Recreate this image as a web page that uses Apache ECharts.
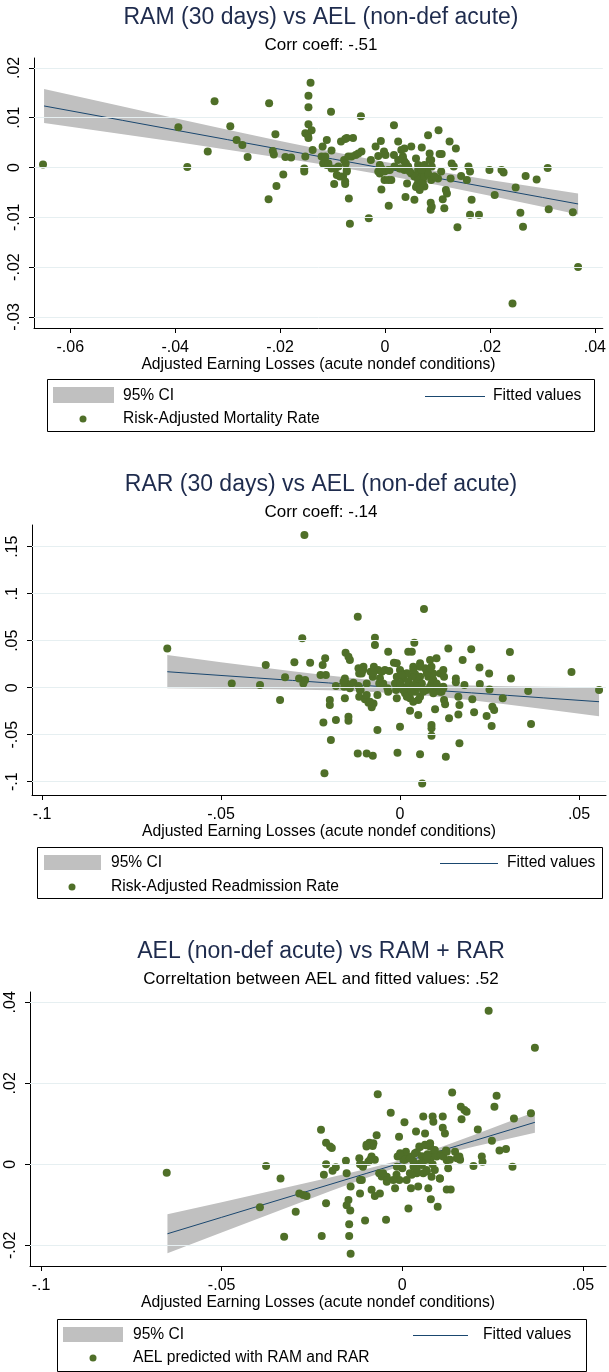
<!DOCTYPE html>
<html><head><meta charset="utf-8">
<script src="https://cdn.jsdelivr.net/npm/echarts@6/dist/echarts.min.js"></script>
<style>html,body{margin:0;padding:0;background:#fff}#c{width:609px;height:1372px}</style>
</head><body><div id="c"></div><script>
// ---------- Panel 1: RAM vs AEL ----------
const ramPoints = [[-0.0652,0.0006],[-0.0394,0.0081],[-0.0377,0.0001],[-0.0338,0.0032],[-0.0325,0.0133],[-0.0295,0.0083],[-0.0283,0.0055],[-0.0272,0.0045],[-0.0262,0.0021],[-0.0221,0.0129],[-0.0222,-0.0064],[-0.0214,0.0033],[-0.0212,0.0026],[-0.0209,0.0067],[-0.0207,-0.0037],[-0.0194,-0.0014],[-0.0190,0.0021],[-0.0179,0.0020],
[-0.0142,0.0170],[-0.0146,0.0144],[-0.0146,0.0121],[-0.0146,0.0087],[-0.0152,0.0069],[-0.0147,0.0065],[-0.0140,0.0075],[-0.0146,0.0059],[-0.0152,0.0022],[-0.0154,-0.0002],[-0.0154,-0.0008],[-0.0138,0.0035],[-0.0103,0.0112],[-0.0046,0.0103],[0.0017,0.0085],[-0.0119,0.0042],[-0.0111,0.0055],[-0.0102,0.0034],[-0.0118,0.0008],[-0.0111,0.0005],[-0.0102,-0.0002],[-0.0095,-0.0002],[-0.0084,0.0052],[-0.0076,0.0057],[-0.0073,0.0059],[-0.0061,0.0059],[-0.0078,0.0015],[-0.0075,0.0008],[-0.0073,-0.0005],[-0.0080,-0.0018],[-0.0097,-0.0033],[-0.0092,-0.0015],[-0.0076,-0.0033],[-0.0069,-0.0062],[-0.0067,-0.0113],[-0.0031,-0.0102],[-0.0064,0.0022],[-0.0056,0.0025],[-0.0045,0.0032],[-0.0027,0.0015],[-0.0018,0.0042],[-0.0008,0.0053],[-0.0002,0.0032],[0.0001,0.0025],[-0.0013,0.0023],[-0.0010,0.0005],[-0.0010,-0.0012],[-0.0007,-0.0044],[0.0007,-0.0077],[0.0012,-0.0025],[0.0006,-0.0005],[0.0017,0.0025],[0.0025,0.0052],[0.0031,0.0035],[0.0037,0.0038],[0.0034,0.0022],[0.0037,0.0012],[0.0044,0.0002],[0.0028,-0.0002],[0.0037,-0.0005],[0.0042,-0.0032],[0.0039,-0.0059],[0.0050,0.0042],[0.0059,0.0018],[0.0056,-0.0065],[0.0061,-0.0035],[0.0069,-0.0012],[0.0072,-0.0028],[0.0075,-0.0038],[0.0070,0.0040],[0.0082,0.0065],[0.0085,0.0028],[0.0088,0.0015],[0.0089,0.0002],[0.0102,0.0075],[0.0104,0.0027],[0.0108,0.0027],[0.0094,-0.0018],[0.0080,-0.0005],[0.0087,-0.0071],[0.0087,-0.0085],[0.0089,-0.0079],[0.0107,-0.0008],[0.0110,-0.0064],[0.0113,-0.0082],[0.0116,-0.0045],[0.0118,-0.0052],[0.0123,0.0052],[0.0135,0.0038],[0.0127,0.0008],[0.0131,0.0002],[0.0125,-0.0022],[0.0145,-0.0017],[0.0156,-0.0025],[0.0159,0.0002],[0.0162,-0.0008],[0.0138,-0.0120],[0.0165,-0.0065],[0.0162,-0.0095],[0.0179,-0.0095],[0.0199,-0.0005],[0.0209,-0.0055],[0.0222,-0.0005],[0.0226,-0.0010],[0.0249,-0.0040],[0.0258,-0.0091],[0.0263,-0.0119],[0.0268,-0.0017],[0.0289,-0.0024],[0.0310,-0.0001],[0.0312,-0.0084],[0.0358,-0.0090],[0.0368,-0.0200],[0.0243,-0.0273],
[-0.0121,0.0022],[-0.0114,0.0012],[-0.0089,0.0002],[-0.0070,0.0022],[-0.0051,0.0028],[0.0050,-0.0012],[0.0056,-0.0018],[0.0063,-0.0005],[0.0025,0.0015],[0.0018,0.0002],[0.0101,-0.0022],[-0.0001,-0.0025],
[0.0034,0.0018],[0.0040,0.0008],[0.0031,-0.0002],[0.0047,-0.0008],[0.0063,-0.0025],[0.0069,-0.0032],[0.0059,-0.0039],[0.0075,-0.0018],[0.0082,-0.0012],[0.0088,-0.0025],[0.0094,-0.0018],[0.0069,-0.0005],[0.0063,0.0005],[0.0075,0.0005],[0.0085,0.0015],[0.0066,-0.0045],[-0.0007,-0.0002],[-0.0001,-0.0008],[0.0009,-0.0005],[-0.0013,-0.0008],[0.0006,-0.0025],[-0.0108,0.0008],[-0.0086,-0.0018],[-0.0076,-0.0028],[-0.0073,-0.0008],[-0.0114,0.0022]];
const ramFitX  = [-0.065,-0.05,-0.04,-0.03,-0.02,-0.01,0,0.01,0.02,0.03,0.0368];
const ramFit   = [0.01236,0.00946,0.00752,0.00559,0.00366,0.00172,-0.00021,-0.00214,-0.00408,-0.00601,-0.00732];
const ramCiLo  = [0.00896,0.00669,0.00515,0.00359,0.00198,0.00028,-0.00154,-0.00352,-0.00565,-0.00788,-0.00942];
const ramCiHi  = [0.01576,0.01223,0.00989,0.00759,0.00534,0.00316,0.00112,-0.00076,-0.00251,-0.00414,-0.00522];
const ramXTicks = [-0.06,-0.04,-0.02,0,0.02,0.04];
const ramYTicks = [-0.03,-0.02,-0.01,0,0.01,0.02];

// ---------- Panel 2: RAR vs AEL ----------
const rarPoints = [[-0.0650,0.0418],[-0.0470,0.0046],[-0.0391,0.0028],[-0.0375,0.0241],[-0.0335,-0.0131],[-0.0321,0.0110],[-0.0295,0.0270],[-0.0282,0.0099],[-0.0273,0.0525],[-0.0267,0.1624],[-0.0270,0.0046],
[-0.0251,0.0266],[-0.0265,0.0082],[-0.0209,0.0312],[-0.0216,0.0241],[-0.0222,0.0135],[-0.0207,0.0135],[-0.0179,0.0018],[-0.0196,-0.0131],[-0.0196,-0.0184],[-0.0214,-0.0369],[-0.0179,-0.0344],[-0.0193,-0.0557],[-0.0211,-0.0911],[-0.0152,0.0372],[-0.0144,0.0330],[-0.0140,0.0294],[-0.0154,0.0099],[-0.0149,0.0046],[-0.0156,0.0011],[-0.0154,-0.0113],[-0.0144,-0.0308],[-0.0144,-0.0351],[-0.0118,0.0755],[-0.0116,0.0206],[-0.0107,0.0188],[-0.0102,0.0223],[-0.0114,0.0152],[-0.0130,0.0053],[-0.0116,0.0018],[-0.0110,-0.0025],[-0.0114,-0.0096],[-0.0098,-0.0124],[-0.0088,-0.0160],[-0.0079,-0.0209],[-0.0074,-0.0167],[-0.0118,-0.0699],[-0.0093,-0.0699],[-0.0076,-0.0723],[-0.0070,0.0532],[-0.0070,0.0454],[-0.0082,0.0170],[-0.0076,0.0117],[-0.0073,0.0223],[-0.0061,0.0188],[-0.0051,0.0170],[-0.0058,0.0046],[-0.0063,-0.0078],[-0.0063,-0.0450],[-0.0042,0.0188],[-0.0030,0.0177],[-0.0033,0.0383],[-0.0017,0.0266],[-0.0009,0.0259],[-0.0035,-0.0007],[-0.0014,0.0046],[-0.0011,-0.0025],[-0.0009,-0.0113],[0.0000,-0.0415],[-0.0007,-0.0691],[0.0005,0.0152],[0.0011,0.0099],[0.0000,0.0046],[0.0019,0.0011],[0.0014,-0.0060],[0.0028,-0.0113],[0.0023,0.0383],[0.0033,0.0383],[0.0040,0.0479],[0.0037,0.0223],[0.0042,0.0145],[0.0047,0.0082],[0.0033,0.0117],[0.0051,0.0011],[0.0042,-0.0043],[0.0051,-0.0131],[0.0028,-0.0245],[0.0051,-0.0291],[0.0056,-0.0709],[0.0062,-0.1018],[0.0067,0.0837],[0.0070,0.0206],[0.0074,0.0188],[0.0084,0.0294],[0.0088,0.0223],[0.0093,0.0152],[0.0079,0.0117],[0.0088,0.0046],[0.0074,-0.0025],[0.0098,0.0011],[0.0102,0.0312],[0.0088,-0.0397],[0.0088,-0.0432],[0.0088,-0.0511],[0.0098,-0.0230],[0.0112,0.0152],[0.0123,0.0117],[0.0121,0.0011],[0.0116,-0.0043],[0.0123,-0.0131],[0.0126,-0.0177],[0.0135,0.0418],[0.0137,-0.0326],[0.0128,-0.0734],[0.0156,0.0099],[0.0156,0.0057],[0.0163,-0.0096],[0.0166,-0.0184],[0.0163,-0.0284],[0.0166,-0.0592],[0.0175,0.0294],[0.0180,0.0029],[0.0199,0.0408],[0.0202,-0.0124],[0.0207,-0.0262],[0.0222,0.0216],[0.0223,0.0039],[0.0249,0.0152],[0.0250,-0.0018],[0.0242,-0.0301],[0.0258,-0.0202],[0.0263,-0.0238],[0.0256,-0.0408],[0.0287,-0.0113],[0.0307,0.0379],[0.0310,0.0099],[0.0358,-0.0035],[0.0366,-0.0387],[0.0479,0.0167],[0.0556,-0.0025],
[0.0000,0.0188],[0.0009,-0.0007],[0.0023,0.0064],[0.0037,0.0029],[0.0056,0.0117],[0.0061,0.0046],[0.0065,-0.0025],[0.0093,-0.0060],[0.0102,0.0046],[0.0121,0.0188],[0.0056,0.0259],[-0.0047,0.0046],[-0.0033,-0.0043],[-0.0093,0.0046],[-0.0107,0.0152],
[-0.0009,0.0117],[0.0000,0.0047],[0.0009,-0.0024],[0.0019,-0.0096],[0.0033,-0.0043],[0.0047,0.0011],[0.0056,-0.0096],[0.0037,-0.0149],[0.0065,-0.0043],[0.0084,0.0011],[0.0093,0.0082],[0.0103,0.0029],[0.0112,-0.0043],[0.0121,-0.0006],[0.0075,0.0153],[0.0084,0.0206],[0.0056,0.0223],[0.0037,0.0188],[0.0019,0.0153],[0.0005,0.0135],[-0.0103,0.0188],[-0.0075,0.0153],[-0.0056,0.0100],[-0.0112,-0.0024],[-0.0093,-0.0078],[-0.0084,-0.0149],[-0.0140,-0.0006],[-0.0158,0.0064]];
const rarFitX = [-0.065,-0.05,-0.04,-0.03,-0.02,-0.01,0,0.01,0.02,0.03,0.04,0.0556];
const rarFit  = [0.01699,0.01303,0.01038,0.00774,0.00509,0.00245,-0.0002,-0.00285,-0.00549,-0.00814,-0.01078,-0.01491];
const rarCiLo = [-0.00071,-0.00111,-0.0015,-0.00201,-0.0028,-0.00407,-0.0062,-0.00937,-0.01338,-0.01789,-0.02266,-0.03037];
const rarCiHi = [0.03469,0.02717,0.02226,0.01749,0.01298,0.00897,0.0058,0.00367,0.0024,0.00161,0.0011,0.00055];
const rarXTicks = [-0.1,-0.05,0,0.05];
const rarYTicks = [-0.1,-0.05,0,0.05,0.1,0.15];

// ---------- Panel 3: AEL predicted vs AEL ----------
const aelPoints = [[-0.0652,-0.0021],[-0.0377,-0.0004],[-0.0337,-0.0035],[-0.0394,-0.0106],[-0.0295,-0.0117],[-0.0327,-0.0179],[-0.0285,-0.0072],[-0.0274,-0.0076],[-0.0265,-0.0078],[-0.0225,0.0085],[-0.0211,0.0053],[-0.0200,0.0044],[-0.0195,0.0040],[-0.0211,0.0000],[-0.0217,-0.0026],[-0.0193,-0.0016],[-0.0184,-0.0007],[-0.0211,-0.0096],[-0.0223,-0.0177],[-0.0156,0.0009],[-0.0154,-0.0022],[-0.0143,-0.0055],[-0.0149,-0.0088],[-0.0154,-0.0101],[-0.0144,-0.0114],[-0.0147,-0.0148],[-0.0147,-0.0177],[-0.0143,-0.0221],[-0.0119,0.0015],[-0.0117,0.0000],[-0.0109,-0.0006],[-0.0112,-0.0039],[-0.0117,-0.0072],[-0.0103,-0.0139],[-0.0099,0.0044],[-0.0091,0.0053],[-0.0082,0.0045],[-0.0085,0.0019],[-0.0076,0.0011],[-0.0085,-0.0063],[-0.0076,-0.0078],[-0.0062,-0.0072],[-0.0071,0.0072],[-0.0068,0.0173],[-0.0064,-0.0022],[-0.0057,-0.0030],[-0.0045,-0.0137],[-0.0043,-0.0043],[-0.0032,0.0127],[-0.0020,-0.0059],[-0.0016,-0.0026],[-0.0009,0.0068],[-0.0013,0.0019],[-0.0006,0.0027],[0.0006,0.0104],[0.0003,0.0011],[0.0010,0.0031],[0.0000,-0.0010],[-0.0008,-0.0039],[0.0017,-0.0109],[0.0024,-0.0059],[0.0026,0.0019],[0.0031,-0.0006],[0.0038,0.0081],[0.0040,-0.0022],[0.0044,-0.0055],[0.0047,0.0044],[0.0054,0.0020],[0.0058,0.0118],[0.0060,0.0010],[0.0063,0.0076],[0.0066,0.0047],[0.0067,-0.0014],[0.0072,-0.0059],[0.0077,0.0044],[0.0079,-0.0086],[0.0084,0.0118],[0.0086,0.0105],[0.0084,0.0000],[0.0086,0.0027],[0.0090,-0.0014],[0.0098,-0.0105],[0.0104,-0.0035],[0.0112,0.0118],[0.0112,0.0090],[0.0118,0.0076],[0.0121,0.0034],[0.0123,0.0010],[0.0127,-0.0010],[0.0123,-0.0062],[0.0134,-0.0062],[0.0138,0.0177],[0.0146,0.0031],[0.0158,0.0019],[0.0160,0.0011],[0.0162,0.0142],[0.0172,0.0134],[0.0178,0.0130],[0.0164,0.0111],[0.0197,-0.0004],[0.0209,0.0086],[0.0220,0.0019],[0.0222,0.0006],[0.0248,0.0058],[0.0239,0.0379],[0.0255,0.0142],[0.0261,0.0169],[0.0269,0.0034],[0.0287,0.0038],[0.0305,-0.0006],[0.0309,0.0113],[0.0356,0.0126],[0.0367,0.0288],
[0.0012,0.0019],[0.0031,0.0006],[0.0049,0.0002],[0.0058,-0.0022],[0.0021,-0.0022],[0.0077,0.0011],[0.0095,0.0019],[0.0067,0.0011],[-0.0094,0.0006],[0.0040,0.0030],[0.0070,0.0025],[0.0105,0.0025],
[-0.0006,0.0023],[0.0007,0.0011],[0.0021,0.0015],[0.0035,0.0027],[0.0049,0.0043],[0.0063,0.0048],[0.0077,0.0052],[0.0090,0.0035],[0.0068,0.0019],[0.0054,-0.0002],[0.0040,-0.0014],[0.0026,-0.0026],[0.0012,-0.0039],[0.0068,-0.0018],[0.0081,-0.0031],[0.0104,-0.0035],[0.0113,0.0019],[0.0132,0.0011],[0.0123,0.0031],[0.0151,0.0015],[-0.0025,-0.0039],[-0.0043,-0.0031],[-0.0053,-0.0022],[-0.0089,0.0011],[-0.0108,-0.0002],[-0.0080,0.0052],[-0.0099,0.0048],[-0.0117,-0.0039],[-0.0015,-0.0006]];
const aelFitX = [-0.065,-0.05,-0.04,-0.03,-0.02,-0.01,0,0.01,0.02,0.03,0.0367];
const aelFit  = [-0.01715,-0.01309,-0.01038,-0.00768,-0.00497,-0.00227,0.00044,0.00315,0.00585,0.00856,0.01037];
const aelCiLo = [-0.02195,-0.01684,-0.01344,-0.01005,-0.00668,-0.00337,-0.00027,0.00225,0.00439,0.00646,0.00781];
const aelCiHi = [-0.01235,-0.00934,-0.00732,-0.00531,-0.00326,-0.00117,0.00115,0.00405,0.00731,0.01066,0.01293];
const aelXTicks = [-0.1,-0.05,0,0.05];
const aelYTicks = [-0.02,0,0.02,0.04];

const titles = ['RAM (30 days) vs AEL (non-def acute)','RAR (30 days) vs AEL (non-def acute)','AEL (non-def acute) vs RAM + RAR'];
const subtitles = ['Corr coeff: -.51','Corr coeff: -.14','Correltation between AEL and fitted values: .52'];
const xAxisTitle = 'Adjusted Earning Losses (acute nondef conditions)';
const legendCi = '95% CI';
const legendFit = 'Fitted values';
const legendPoints = ['Risk-Adjusted Mortality Rate','Risk-Adjusted Readmission Rate','AEL predicted with RAM and RAR'];

const FONT = '"Liberation Sans", Arial, sans-serif';
const GREEN = '#4f6f28', NAVY = '#1a476f', CIGREY = '#c0c0c0', GRID = '#e6eff1';

function fmt(v){
  if (Math.abs(v) < 1e-10) return '0';
  let s = String(+v.toFixed(4));
  return s.replace(/^(-?)0\./, '$1.');
}

const layouts = [
  {grid:{left:34, top:58, width:572, height:270}, x:[-0.06692,0.04152], y:[-0.03223,0.02199],
   titleY:18, subY:45, nameGap:28,
   leg:{box:[47,379,547,52], rect:[53,387,61,16], r1:396, r2:419, txtX:123, line:[425,485], fitTxt:493, dotX:83}},
  {grid:{left:32, top:525, width:574, height:270}, x:[-0.10279,0.05754], y:[-0.11415,0.17309],
   titleY:485, subY:512, nameGap:28,
   leg:{box:[37,847,565,51], rect:[44,855,57,15], r1:863, r2:887, txtX:111, line:[440,498], fitTxt:507, dotX:72}},
  {grid:{left:30, top:992, width:576, height:274}, x:[-0.10304,0.05638], y:[-0.02511,0.04254],
   titleY:952, subY:979, nameGap:29,
   leg:{box:[57,1319,529,52], rect:[63,1327,60,15], r1:1335, r2:1358, txtX:133, line:[413,468], fitTxt:483, dotX:93}}
];

const panels = [
  {pts:ramPoints, fx:ramFitX, fit:ramFit, lo:ramCiLo, hi:ramCiHi, xt:ramXTicks, yt:ramYTicks},
  {pts:rarPoints, fx:rarFitX, fit:rarFit, lo:rarCiLo, hi:rarCiHi, xt:rarXTicks, yt:rarYTicks},
  {pts:aelPoints, fx:aelFitX, fit:aelFit, lo:aelCiLo, hi:aelCiHi, xt:aelXTicks, yt:aelYTicks}
];

const option = {animation:false, backgroundColor:'#fff', grid:[], xAxis:[], yAxis:[], series:[], graphic:[]};

panels.forEach((p, i) => {
  const L = layouts[i];
  option.grid.push(Object.assign({containLabel:false}, L.grid));
  option.xAxis.push({
    type:'value', gridIndex:i, min:L.x[0], max:L.x[1],
    name:xAxisTitle, nameLocation:'middle', nameGap:L.nameGap,
    nameTextStyle:{fontFamily:FONT, fontSize:15.7, color:'#000'},
    axisLine:{show:true, onZero:false, lineStyle:{color:'#000', width:1}},
    axisTick:{show:true, inside:false, length:5, customValues:p.xt, lineStyle:{color:'#000'}},
    axisLabel:{show:true, customValues:p.xt, formatter:fmt, margin:12, fontFamily:FONT, fontSize:16, color:'#000'},
    splitLine:{show:false}
  });
  option.yAxis.push({
    type:'value', gridIndex:i, min:L.y[0], max:L.y[1],
    axisLine:{show:true, onZero:false, lineStyle:{color:'#000', width:1}},
    axisTick:{show:true, inside:false, length:5, customValues:p.yt, lineStyle:{color:'#000'}},
    axisLabel:{show:true, customValues:p.yt, formatter:fmt, rotate:90, margin:11, fontFamily:FONT, fontSize:16, color:'#000'},
    splitLine:{show:false}
  });
  const ciData = p.fx.map((x,k)=>[x, p.lo[k], p.hi[k]]);
  option.series.push({
    type:'custom', xAxisIndex:i, yAxisIndex:i, data:ciData, silent:true, z:2,
    encode:{x:0, y:[1,2]},
    renderItem:function(params, api){
      if (params.dataIndex !== 0) return null;
      const upper = ciData.map(d=>api.coord([d[0], d[2]]));
      const lower = ciData.map(d=>api.coord([d[0], d[1]])).reverse();
      return {type:'polygon', shape:{points:upper.concat(lower)}, style:{fill:CIGREY, stroke:null}};
    },
    markLine:{silent:true, symbol:'none', label:{show:false}, animation:false,
      lineStyle:{color:GRID, width:1, type:'solid'}, data:p.yt.map(v=>({yAxis:v}))}
  });
  option.series.push({
    type:'line', xAxisIndex:i, yAxisIndex:i, data:p.fx.map((x,k)=>[x,p.fit[k]]),
    symbol:'none', lineStyle:{color:NAVY, width:1}, silent:true, z:3
  });
  option.series.push({
    type:'scatter', xAxisIndex:i, yAxisIndex:i, data:p.pts, symbol:'circle', symbolSize:8,
    itemStyle:{color:GREEN, opacity:1}, z:4
  });
  option.graphic.push({type:'text', silent:true, style:{text:titles[i], x:321, y:L.titleY, textAlign:'center', textVerticalAlign:'middle', font:'23px '+FONT, fill:'#1e2b4d'}});
  option.graphic.push({type:'text', silent:true, style:{text:subtitles[i], x:321, y:L.subY, textAlign:'center', textVerticalAlign:'middle', font:'17px '+FONT, fill:'#000'}});
  const g = L.leg;
  option.graphic.push({type:'rect', silent:true, shape:{x:g.box[0]+0.5, y:g.box[1]+0.5, width:g.box[2], height:g.box[3]}, style:{fill:'#fff', stroke:'#000', lineWidth:1}});
  option.graphic.push({type:'rect', silent:true, shape:{x:g.rect[0], y:g.rect[1], width:g.rect[2], height:g.rect[3]}, style:{fill:CIGREY}});
  option.graphic.push({type:'text', silent:true, style:{text:legendCi, x:g.txtX, y:g.r1, textAlign:'left', textVerticalAlign:'middle', font:'15.6px '+FONT, fill:'#000'}});
  option.graphic.push({type:'line', silent:true, shape:{x1:g.line[0], y1:g.r1+0.5, x2:g.line[1], y2:g.r1+0.5}, style:{stroke:NAVY, lineWidth:1}});
  option.graphic.push({type:'text', silent:true, style:{text:legendFit, x:g.fitTxt, y:g.r1, textAlign:'left', textVerticalAlign:'middle', font:'15.6px '+FONT, fill:'#000'}});
  option.graphic.push({type:'circle', silent:true, shape:{cx:g.dotX, cy:g.r2, r:3.5}, style:{fill:GREEN}});
  option.graphic.push({type:'text', silent:true, style:{text:legendPoints[i], x:g.txtX, y:g.r2, textAlign:'left', textVerticalAlign:'middle', font:'15.6px '+FONT, fill:'#000'}});
});

const chart = echarts.init(document.getElementById('c'), null, {renderer:'canvas'});
chart.setOption(option);
</script></body></html>
